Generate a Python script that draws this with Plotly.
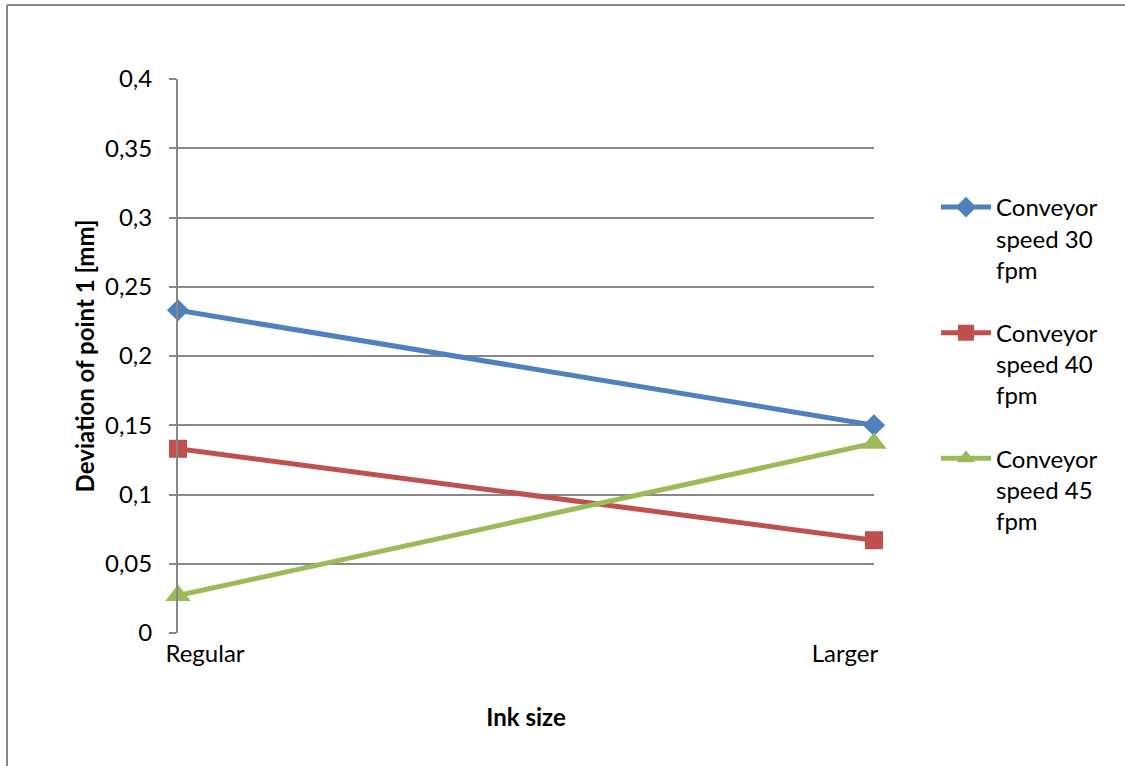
import plotly.graph_objects as go

# Ink size categories and deviation of point 1 [mm] per conveyor speed
categories = ["Regular", "Larger"]
speed_30 = [0.233, 0.150]
speed_40 = [0.133, 0.067]
speed_45 = [0.027, 0.137]
series_names = ["Conveyor<br>speed 30<br>fpm", "Conveyor<br>speed 40<br>fpm", "Conveyor<br>speed 45<br>fpm"]
y_tick_vals = [0, 0.05, 0.1, 0.15, 0.2, 0.25, 0.3, 0.35, 0.4]
y_tick_text = ["0", "0,05", "0,1", "0,15", "0,2", "0,25", "0,3", "0,35", "0,4"]

W, H = 1125, 766
L, R, T, B = 178, 251, 79, 133
plot_w = W - L - R
plot_h = H - T - B

FONT = "Lato, 'Open Sans', sans-serif"
GRID = "#878787"
FS = 24

x_idx = list(range(len(categories)))

styles = [
    ("#4F81BD", "diamond", 17),
    ("#C0504D", "square", 18),
    ("#9BBB59", "triangle-up", 22),
]

fig = go.Figure()
for i, (name, ys, (color, sym, size)) in enumerate(zip(series_names, [speed_30, speed_40, speed_45], styles)):
    fig.add_trace(go.Scatter(
        x=x_idx, y=ys, name=name, mode="lines+markers",
        legendgroup=f"g{i}",
        line=dict(color=color, width=5),
        marker=dict(symbol=sym, size=size, color=color),
        cliponaxis=False,
    ))

# category labels are pulled inward so they stay inside the plot width
label_pos = [0 + 27 / plot_w, 1 - 29 / plot_w]

fig.update_layout(
    width=W, height=H,
    margin=dict(l=L, r=R, t=T, b=B, pad=0),
    paper_bgcolor="white", plot_bgcolor="white",
    font=dict(family=FONT, size=FS, color="#000000"),
    showlegend=True,
    legend=dict(
        x=(936 - L) / plot_w, y=(633 - 185) / plot_h,
        xanchor="left", yanchor="top", valign="top",
        font=dict(family=FONT, size=FS, color="#000000"),
        tracegroupgap=29, itemwidth=50, traceorder="grouped",
        bgcolor="rgba(0,0,0,0)",
    ),
    xaxis=dict(
        range=[0, 1], showgrid=False, zeroline=False,
        showline=False, ticks="",
        tickvals=label_pos, ticktext=categories,
        tickfont=dict(family=FONT, size=FS),
        ticklabelstandoff=4,
        title=dict(text="<b>Ink size</b>", font=dict(family=FONT, size=24), standoff=43),
    ),
    yaxis=dict(
        range=[0, 0.4], tickvals=y_tick_vals, ticktext=y_tick_text,
        showgrid=True, gridcolor=GRID, gridwidth=2,
        zeroline=False, showline=True, linecolor=GRID, linewidth=2,
        ticks="outside", ticklen=7, tickcolor=GRID, tickwidth=2,
        tickfont=dict(family=FONT, size=FS),
        ticklabelstandoff=12,
        title=dict(text="<b>Deviation of point 1 [mm]</b>", font=dict(family=FONT, size=24), standoff=4),
    ),
)

# outer chart frame (left and top edges)
fx0 = (7 - L) / plot_w
fy_top = (H - B - 5) / plot_h
fy_bot = (H - B - H) / plot_h
fx_right = (W + 5 - L) / plot_w
fig.add_shape(type="line", xref="paper", yref="paper", x0=fx0, x1=fx0, y0=fy_bot, y1=fy_top,
              line=dict(color=GRID, width=2), layer="above")
fig.add_shape(type="line", xref="paper", yref="paper", x0=fx0, x1=fx_right, y0=fy_top, y1=fy_top,
              line=dict(color=GRID, width=2), layer="above")

fig.write_html("out.html")
